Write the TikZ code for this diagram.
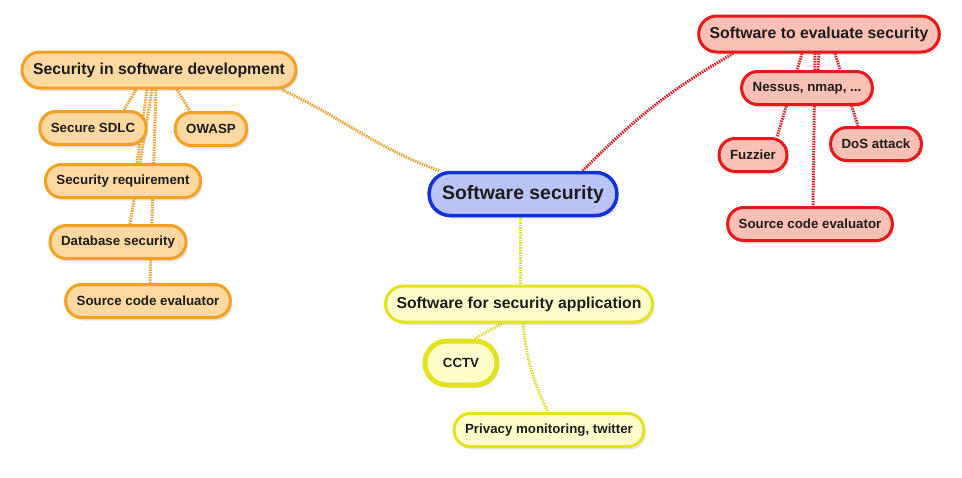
\documentclass[tikz,border=0pt]{standalone}
\usepackage{fontspec}
\setmainfont{Liberation Sans}
\usetikzlibrary{shadows, backgrounds}
\definecolor{ink}{RGB}{28,28,28}
\definecolor{obord}{RGB}{244,160,34}
\definecolor{ofill}{RGB}{253,216,160}
\definecolor{oline}{RGB}{236,164,56}
\definecolor{rbord}{RGB}{230,24,24}
\definecolor{rfill}{RGB}{250,192,182}
\definecolor{rline}{RGB}{216,34,40}
\definecolor{bbord}{RGB}{18,48,224}
\definecolor{bfill}{RGB}{186,196,246}
\definecolor{ybord}{RGB}{226,226,30}
\definecolor{yfill}{RGB}{255,255,204}
\definecolor{yline}{RGB}{222,222,56}
\tikzset{
bubble/.style={draw, line width=3pt, rounded corners=16pt, minimum height=33pt, inner xsep=11pt, inner ysep=2pt, text=ink, font=\fontsize{13.3}{15}\selectfont\bfseries, drop shadow={opacity=0.22, shadow xshift=2pt, shadow yshift=-3pt}}, % every leaf of the map
topic/.style={rounded corners=18pt, minimum height=36pt, font=\fontsize{15.8}{18}\selectfont\bfseries}, % the three branches, put after the colour
orangebox/.style={bubble, draw=obord, fill=ofill},
redbox/.style={bubble, draw=rbord, fill=rfill},
yellowbox/.style={bubble, draw=ybord, fill=yfill},
link/.style={line width=3pt, dash pattern=on 1.5pt off 1pt}, % the dotted connectors
olink/.style={link, draw=oline},
rlink/.style={link, draw=rline},
ylink/.style={link, draw=yline},
}

\begin{document}
\begin{tikzpicture}[x=1pt, y=-1pt]
            \useasboundingbox (0,0) rectangle (962,477);
            \node[bubble, draw=bbord, fill=bfill, line width=3.5pt, rounded corners=21pt, minimum height=43pt, inner xsep=13pt, font=\fontsize{19.4}{22}\selectfont\bfseries] (sec) at (523,194) {Software security};
            \node[orangebox, topic] (dev) at (159,70) {Security in software development};
            \node[orangebox] (sdlc) at (93,128) {Secure SDLC};
            \node[orangebox] (owasp) at (211,129) {OWASP};
            \node[orangebox] (req) at (123,181) {Security requirement};
            \node[orangebox] (db) at (118,242) {Database security};
            \node[orangebox] (src) at (148,301) {Source code evaluator};
            \node[redbox, topic] (eval) at (819,34) {Software to evaluate security};
            \node[redbox] (nessus) at (807,88) {Nessus, nmap, ...};
            \node[redbox] (fuzz) at (753,155) {Fuzzier};
            \node[redbox] (dos) at (876,144) {DoS attack};
            \node[redbox] (rsrc) at (810,224) {Source code evaluator};
            \node[yellowbox, topic] (app) at (519,304) {Software for security application};
            \node[yellowbox, line width=5pt, rounded corners=22pt, minimum width=72pt, minimum height=44pt] (cctv) at (461,363) {CCTV};
            \node[yellowbox] (priv) at (549,430) {Privacy monitoring, twitter};
            \begin{scope}[on background layer]
            \draw[olink]
                ([xshift=12]sec.north west) to[out=160, in=-25] ([xshift=-16]dev.south east)
                ([xshift=-23]dev.south) edge ([xshift=31]sdlc.north)
                ([xshift=18]dev.south) edge ([xshift=-21]owasp.north)
                ([xshift=-12]dev.south) edge ([xshift=14]req.north)
                ([xshift=-7]dev.south) edge ([xshift=12]db.north)
                ([xshift=-3]dev.south) edge ([xshift=2]src.north)
                ;
            \draw[rlink]
                ([xshift=-36]sec.north east) to[out=45, in=210] ([xshift=36]eval.south west)
                ([xshift=0]eval.south) edge ([xshift=11]nessus.north)
                ([xshift=-17]eval.south) edge ([xshift=24]fuzz.north)
                ([xshift=16]eval.south) edge ([xshift=-18]dos.north)
                ([xshift=-4]eval.south) edge ([xshift=3]rsrc.north)
                ;
            \draw[ylink]
                ([xshift=-3]sec.south) -- ([xshift=1]app.north)
                ([xshift=-17]app.south) edge ([xshift=14]cctv.north)
                ([xshift=4]app.south) edge[bend right=10] ([xshift=-1]priv.north)
                ;
            \end{scope}
            \end{tikzpicture}
\end{document}
